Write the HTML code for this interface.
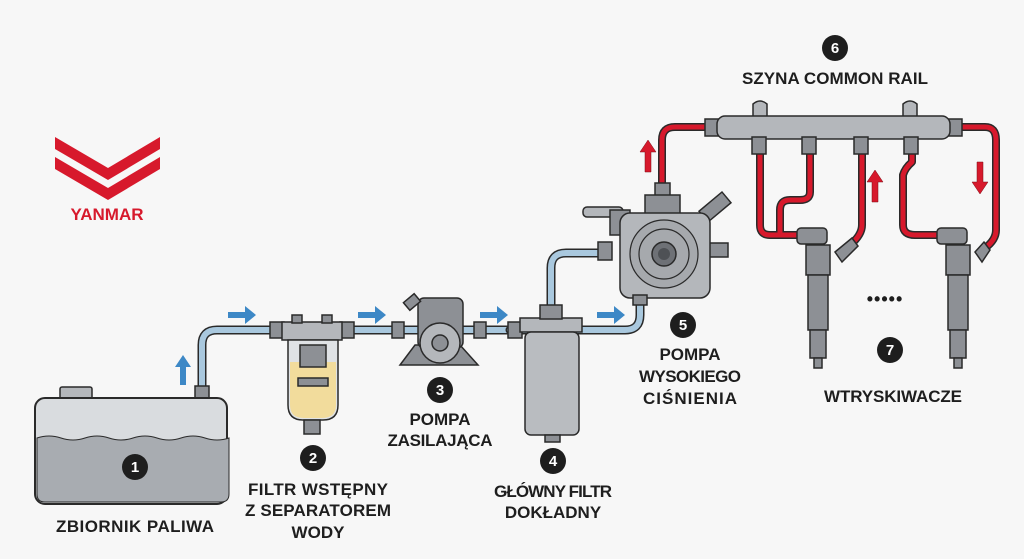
<!DOCTYPE html>
<html><head><meta charset="utf-8"><style>
html,body{margin:0;padding:0;background:#f7f7f7;}
svg{display:block}
text{font-family:"Liberation Sans",sans-serif;font-weight:bold;fill:#1e1e1e;}
.lbl{font-size:17px;text-anchor:middle;}
.num{font-size:15px;fill:#fff;text-anchor:middle;}
.m{fill:#8d9095;stroke:#2a2a2a;stroke-width:1.5}
.ml{fill:#b4b7bb;stroke:#2a2a2a;stroke-width:1.5}
</style></head><body>
<svg width="1024" height="559" viewBox="0 0 1024 559" xmlns="http://www.w3.org/2000/svg">
<rect width="1024" height="559" fill="#f7f7f7"/>
<!-- logo -->
<g fill="#d7192c">
<polygon points="55,137 108,168 160,137 160,149 108,180 55,149"/>
<polygon points="55,157 108,188 160,157 160,169 108,200 55,169" />
</g>
<text x="107" y="220" style="font-size:17px;fill:#d7192c;text-anchor:middle">YANMAR</text>

<!-- blue pipes -->
<g fill="none" stroke-linecap="round" stroke-linejoin="round">
<path d="M202,390 V345 Q202,330 217,330 H600" stroke="#2a2a2a" stroke-width="9"/>
<path d="M202,390 V345 Q202,330 217,330 H600" stroke="#a9c8de" stroke-width="6"/>
<path d="M510,330 H625 Q640,330 640,315 V295" stroke="#2a2a2a" stroke-width="9"/>
<path d="M510,330 H625 Q640,330 640,315 V295" stroke="#a9c8de" stroke-width="6"/>
<path d="M551,310 V268 Q551,253 566,253 H605" stroke="#2a2a2a" stroke-width="9"/>
<path d="M551,310 V268 Q551,253 566,253 H605" stroke="#a9c8de" stroke-width="6"/>
<!-- red pipes -->
<g stroke="#2a2a2a" stroke-width="8">
<path d="M662,185 V140 Q662,127 675,127 H710"/>
<path d="M955,127 H985 Q996,127 996,140 V230 Q996,240 985,248"/>
<path d="M760,152 V225 Q760,235 770,235 H800"/>
<path d="M810,152 V192 Q810,200 800,200 H790 Q780,200 780,210 V235"/>
<path d="M862,152 V225 Q862,235 850,245"/>
<path d="M912,152 V162 Q905,168 903,175 V225 Q903,235 915,235 H940"/>
</g>
<g stroke="#d7192c" stroke-width="5">
<path d="M662,185 V140 Q662,127 675,127 H710"/>
<path d="M955,127 H985 Q996,127 996,140 V230 Q996,240 985,248"/>
<path d="M760,152 V225 Q760,235 770,235 H800"/>
<path d="M810,152 V192 Q810,200 800,200 H790 Q780,200 780,210 V235"/>
<path d="M862,152 V225 Q862,235 850,245"/>
<path d="M912,152 V162 Q905,168 903,175 V225 Q903,235 915,235 H940"/>
</g>
</g>

<!-- blue arrows -->
<g fill="#3d88c6">
<polygon points="228,312 245,312 245,306 256,315 245,324 245,318 228,318"/>
<polygon points="358,312 375,312 375,306 386,315 375,324 375,318 358,318"/>
<polygon points="480,312 497,312 497,306 508,315 497,324 497,318 480,318"/>
<polygon points="597,312 614,312 614,306 625,315 614,324 614,318 597,318"/>
<polygon points="180,385 180,367 175,367 183,355 191,367 186,367 186,385"/>
</g>
<!-- red arrows -->
<g fill="#d7192c" stroke="#7a0d15" stroke-width="0.5">
<polygon points="645,172 645,152 640,152 648,140 656,152 651,152 651,172"/>
<polygon points="872,202 872,182 867,182 875,170 883,182 878,182 878,202"/>
<polygon points="977,162 977,182 972,182 980,194 988,182 983,182 983,162"/>
</g>

<!-- tank -->
<rect x="60" y="387" width="32" height="12" rx="2" class="ml"/>
<rect x="195" y="386" width="14" height="12" class="m"/>
<rect x="35" y="398" width="192" height="106" rx="10" fill="#d9dcdf" stroke="#2a2a2a" stroke-width="2"/>
<path d="M37,438 q12,-4 24,0 t24,0 t24,0 t24,0 t24,0 t24,0 t24,0 t24,0 V494 q0,8 -8,8 H45 q-8,0 -8,-8 Z" fill="#a8acb1" stroke="#2a2a2a" stroke-width="1"/>
<circle cx="135" cy="467" r="13" fill="#1e1e1e"/><text x="135" y="472" class="num">1</text>

<!-- filter 2 -->
<rect x="270" y="322" width="14" height="16" class="m"/>
<rect x="340" y="322" width="14" height="16" class="m"/>
<path d="M282,322 H342 V340 H282 Z" class="ml"/>
<rect x="292" y="315" width="10" height="8" class="m"/><rect x="322" y="315" width="10" height="8" class="m"/>
<path d="M288,340 H338 V405 Q338,420 323,420 H303 Q288,420 288,405 Z" fill="#dfe2e5" stroke="#2a2a2a" stroke-width="1.5"/>
<path d="M290,362 H336 V405 Q336,418 322,418 H304 Q290,418 290,405 Z" fill="#f2dc9c"/>
<rect x="300" y="345" width="26" height="22" class="m"/>
<rect x="298" y="378" width="30" height="8" class="m"/>
<rect x="304" y="420" width="16" height="14" class="m"/>
<circle cx="313" cy="458" r="13" fill="#1e1e1e"/><text x="313" y="463" class="num">2</text>
<text x="318" y="495" class="lbl" textLength="140">FILTR WSTĘPNY</text>
<text x="318" y="516" class="lbl" textLength="146">Z SEPARATOREM</text>
<text x="318" y="538" class="lbl">WODY</text>

<!-- pump 3 -->
<polygon points="400,365 415,345 460,345 478,365" class="m"/>
<rect x="418" y="298" width="45" height="50" rx="6" class="m"/>
<rect x="405" y="297" width="14" height="10" transform="rotate(-40 412 302)" class="m"/>
<circle cx="440" cy="343" r="20" class="ml"/><circle cx="440" cy="343" r="8" class="m"/>
<rect x="392" y="322" width="12" height="16" class="m"/><rect x="474" y="322" width="12" height="16" class="m"/>
<circle cx="440" cy="390" r="13" fill="#1e1e1e"/><text x="440" y="395" class="num">3</text>
<text x="440" y="425" class="lbl">POMPA</text>
<text x="440" y="446" class="lbl" textLength="105">ZASILAJĄCA</text>

<!-- filter 4 -->
<rect x="508" y="322" width="14" height="16" class="m"/>
<path d="M520,318 H582 V332 H520 Z" class="ml"/>
<rect x="540" y="305" width="22" height="14" class="m"/>
<rect x="525" y="332" width="54" height="103" rx="6" fill="#b9bcc0" stroke="#2a2a2a" stroke-width="1.5"/>
<rect x="545" y="435" width="15" height="7" class="m"/>
<circle cx="553" cy="461" r="13" fill="#1e1e1e"/><text x="553" y="466" class="num">4</text>
<text x="553" y="497" class="lbl" textLength="118">GŁÓWNY FILTR</text>
<text x="553" y="518" class="lbl">DOKŁADNY</text>

<!-- HP pump 5 -->
<rect x="655" y="183" width="15" height="15" class="m"/>
<rect x="645" y="195" width="35" height="20" class="m"/>
<rect x="583" y="207" width="40" height="10" rx="4" class="ml"/>
<rect x="610" y="210" width="20" height="25" class="m"/>
<rect x="598" y="242" width="14" height="18" class="m"/>
<rect x="708" y="243" width="20" height="14" class="m"/>
<rect x="700" y="200" width="30" height="14" transform="rotate(-40 715 207)" class="m"/>
<rect x="620" y="213" width="90" height="85" rx="10" class="ml"/>
<circle cx="664" cy="254" r="34" fill="#a6a9ad" stroke="#2a2a2a" stroke-width="1.2"/>
<circle cx="664" cy="254" r="25" fill="#a6a9ad" stroke="#2a2a2a" stroke-width="1.2"/>
<circle cx="664" cy="254" r="12" fill="#6e7176" stroke="#2a2a2a" stroke-width="1.5"/>
<circle cx="664" cy="254" r="6" fill="#4e5155"/>
<rect x="633" y="295" width="14" height="10" class="m"/>
<circle cx="683" cy="325" r="13" fill="#1e1e1e"/><text x="683" y="330" class="num">5</text>
<text x="690" y="360" class="lbl">POMPA</text>
<text x="690" y="382" class="lbl" textLength="102">WYSOKIEGO</text>
<text x="690" y="404" class="lbl" textLength="94">CIŚNIENIA</text>

<!-- rail -->
<path d="M753,117 V104 Q760,98 767,104 V117 Z" class="ml"/>
<path d="M903,117 V104 Q910,98 917,104 V117 Z" class="ml"/>
<rect x="705" y="119" width="15" height="17" class="m"/>
<rect x="947" y="119" width="15" height="17" class="m"/>
<rect x="717" y="116" width="233" height="23" rx="8" class="ml"/>
<g class="m">
<rect x="752" y="137" width="14" height="17"/><rect x="802" y="137" width="14" height="17"/>
<rect x="854" y="137" width="14" height="17"/><rect x="904" y="137" width="14" height="17"/>
</g>
<circle cx="835" cy="48" r="13" fill="#1e1e1e"/><text x="835" y="53" class="num">6</text>
<text x="835" y="84" class="lbl" textLength="186">SZYNA COMMON RAIL</text>

<!-- injectors -->
<g>
<rect x="797" y="228" width="30" height="16" rx="4" class="m"/>
<polygon points="835,252 852,238 858,246 842,262" class="m"/>
<rect x="806" y="245" width="24" height="30" class="m"/>
<rect x="808" y="275" width="20" height="55" class="m"/>
<rect x="810" y="330" width="16" height="28" class="m"/>
<rect x="814" y="358" width="8" height="10" class="m"/>
</g>
<g>
<rect x="937" y="228" width="30" height="16" rx="4" class="m"/>
<polygon points="975,252 984,242 990,250 982,262" class="m"/>
<rect x="946" y="245" width="24" height="30" class="m"/>
<rect x="948" y="275" width="20" height="55" class="m"/>
<rect x="950" y="330" width="16" height="28" class="m"/>
<rect x="954" y="358" width="8" height="10" class="m"/>
</g>
<text x="885" y="305" style="font-size:18px;text-anchor:middle;letter-spacing:1px">•••••</text>
<circle cx="890" cy="350" r="13" fill="#1e1e1e"/><text x="890" y="355" class="num">7</text>
<text x="893" y="402" class="lbl" textLength="138">WTRYSKIWACZE</text>
<text x="135" y="532" class="lbl" textLength="158">ZBIORNIK PALIWA</text>
</svg>
</body></html>
